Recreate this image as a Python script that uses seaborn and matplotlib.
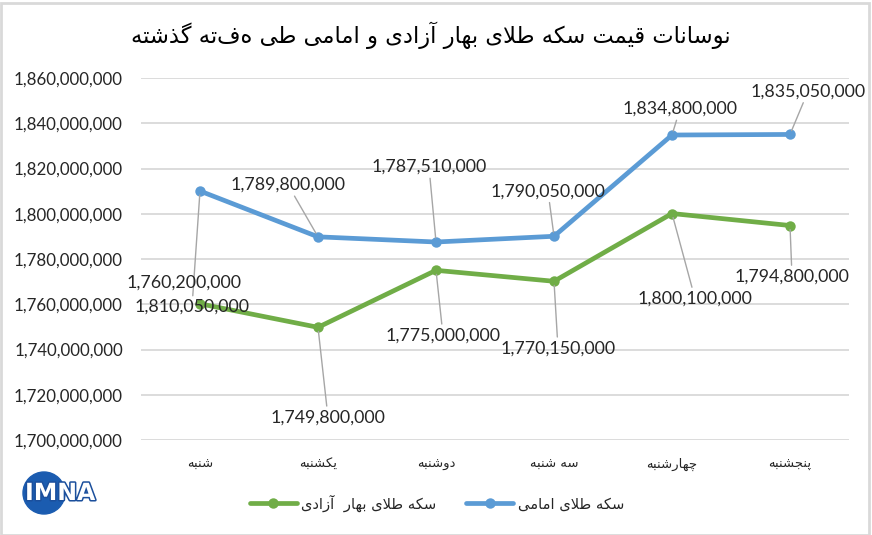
import matplotlib
matplotlib.use("Agg")
import matplotlib.pyplot as plt
import matplotlib.patheffects as pe
from matplotlib.lines import Line2D
from matplotlib.patches import Rectangle, Circle
import seaborn as sns
import pandas as pd

# ---------------- data ----------------
days = ["شنبه", "یکشنبه", "دوشنبه", "سه شنبه", "چهارشنبه", "پنجشنبه"]
emami = [1810050000, 1789800000, 1787510000, 1790050000, 1834800000, 1835050000]
bahar = [1760200000, 1749800000, 1775000000, 1770150000, 1800100000, 1794800000]
name_emami = "سکه طلای امامی"
name_bahar = "سکه طلای بهار  آزادی"
title = "نوسانات قیمت سکه طلای بهار آزادی و امامی طی هفته گذشته"
y_ticks = [1700000000, 1720000000, 1740000000, 1760000000, 1780000000,
           1800000000, 1820000000, 1840000000, 1860000000]

# ---------------- simple Persian shaping ----------------
FORMS = {
    'ا': ('\uFE8D', '\uFE8E', None, None),
    'آ': ('\uFE81', '\uFE82', None, None),
    'ب': ('\uFE8F', '\uFE90', '\uFE91', '\uFE92'),
    'پ': ('\uFB56', '\uFB57', '\uFB58', '\uFB59'),
    'ت': ('\uFE95', '\uFE96', '\uFE97', '\uFE98'),
    'ج': ('\uFE9D', '\uFE9E', '\uFE9F', '\uFEA0'),
    'چ': ('\uFB7A', '\uFB7B', '\uFB7C', '\uFB7D'),
    'د': ('\uFEA9', '\uFEAA', None, None),
    'ذ': ('\uFEAB', '\uFEAC', None, None),
    'ر': ('\uFEAD', '\uFEAE', None, None),
    'ز': ('\uFEAF', '\uFEB0', None, None),
    'س': ('\uFEB1', '\uFEB2', '\uFEB3', '\uFEB4'),
    'ش': ('\uFEB5', '\uFEB6', '\uFEB7', '\uFEB8'),
    'ط': ('\uFEC1', '\uFEC2', '\uFEC3', '\uFEC4'),
    'ق': ('\uFED5', '\uFED6', '\uFED7', '\uFED8'),
    'ک': ('\uFB8E', '\uFB8F', '\uFB90', '\uFB91'),
    'گ': ('\uFB92', '\uFB93', '\uFB94', '\uFB95'),
    'ل': ('\uFEDD', '\uFEDE', '\uFEDF', '\uFEE0'),
    'م': ('\uFEE1', '\uFEE2', '\uFEE3', '\uFEE4'),
    'ن': ('\uFEE5', '\uFEE6', '\uFEE7', '\uFEE8'),
    'ه': ('\uFEE9', '\uFEEA', '\uFEEB', '\uFEEC'),
    'و': ('\uFEED', '\uFEEE', None, None),
    'ی': ('\uFBFC', '\uFBFD', '\uFBFE', '\uFBFF'),
}
LAMALEF = {'ا': ('\uFEFB', '\uFEFC'), 'آ': ('\uFEF5', '\uFEF6')}


def dual(c):
    return c in FORMS and FORMS[c][2] is not None


def fa(s):
    out = []
    n = len(s)
    i = 0
    while i < n:
        c = s[i]
        if c not in FORMS:
            out.append(c)
            i += 1
            continue
        prev_j = i > 0 and dual(s[i - 1])
        if c == 'ل' and i + 1 < n and s[i + 1] in LAMALEF:
            out.append(LAMALEF[s[i + 1]][1 if prev_j else 0])
            i += 2
            continue
        next_j = i + 1 < n and s[i + 1] in FORMS and dual(c)
        iso, fin, ini, med = FORMS[c]
        if prev_j and next_j:
            out.append(med)
        elif prev_j:
            out.append(fin)
        elif next_j:
            out.append(ini)
        else:
            out.append(iso)
        i += 1
    return ''.join(reversed(out))


# ---------------- styling ----------------
sns.set_theme(style="white")
plt.rcParams['font.family'] = ['Lato', 'DejaVu Sans']
FA_FONT = ['DejaVu Sans']
BLUE = '#5B9BD5'
GREEN = '#70AD47'
GRID = '#d9d9d9'
TXT = '#262626'

W, H = 872, 535
fig = plt.figure(figsize=(W / 100, H / 100), dpi=100)
fig.patch.set_facecolor('white')
ax = fig.add_axes([141 / W, (H - 440) / H, 708 / W, 362 / H])

df = pd.DataFrame({
    'pos': list(range(len(days))) * 2,
    'value': bahar + emami,
    'series': [name_bahar] * len(days) + [name_emami] * len(days),
})
sns.lineplot(data=df, x='pos', y='value', hue='series',
             hue_order=[name_bahar, name_emami],
             palette={name_bahar: GREEN, name_emami: BLUE},
             marker='o', markersize=7.5, markeredgewidth=0,
             linewidth=3.4, legend=False, ax=ax, zorder=3)

ax.set_xlim(-0.5, len(days) - 0.5)
ax.set_ylim(y_ticks[0], y_ticks[-1])
ax.set_yticks(y_ticks)
ax.set_yticklabels([f"{v:,}" for v in y_ticks], fontsize=12.2, color=TXT)
ax.set_xticks(range(len(days)))
ax.set_xticklabels([fa(d) for d in days], family=FA_FONT, fontsize=9.5, color=TXT)
ax.tick_params(axis='y', length=0, pad=13)
ax.tick_params(axis='x', length=0, pad=13)
ax.set_xlabel('')
ax.set_ylabel('')
ax.yaxis.grid(True, color=GRID, linewidth=1.3)
ax.xaxis.grid(False)
for sp in ax.spines.values():
    sp.set_visible(False)
ax.set_facecolor('none')

# data labels (offsets in pixels from each point)
off_emami = [(-8, -116), (-30, 52), (-7, 75), (-6, 45), (8, 26), (18, 43)]
off_bahar = [(-16, 21), (10, -90), (7, -65), (4, -67), (23, -85), (2, -51)]
leader = dict(arrowstyle='-', color='#a6a6a6', lw=1.0, shrinkA=0, shrinkB=3)
for vals, offs in ((emami, off_emami), (bahar, off_bahar)):
    for i, (v, o) in enumerate(zip(vals, offs)):
        short = abs(o[1]) < 25 and abs(o[0]) < 20
        ax.annotate(f"{v:,}", xy=(i, v), xytext=o, textcoords='offset pixels',
                    ha='center', va='center', fontsize=12.8, color=TXT,
                    arrowprops=None if short else leader, zorder=5)

# title
fig.text(431 / W, 1 - 35 / H, fa(title), ha='center', va='center',
         fontsize=16.3, color='black', family=FA_FONT)

# legend
handles = [Line2D([], [], color=GREEN, lw=3.4, marker='o', markersize=7.5, markeredgewidth=0),
           Line2D([], [], color=BLUE, lw=3.4, marker='o', markersize=7.5, markeredgewidth=0)]
leg = fig.legend(handles, [fa(name_bahar), fa(name_emami)], loc='center',
                 bbox_to_anchor=(437 / W, 1 - 503 / H), ncol=2, frameon=False,
                 handlelength=3.2, handletextpad=0.3, columnspacing=2.0,
                 prop={'family': FA_FONT, 'size': 10.6})
for t in leg.get_texts():
    t.set_color(TXT)

# logo
logo_ax = fig.add_axes([0, 0, 1, 1], zorder=-1)
logo_ax.set_xlim(0, W)
logo_ax.set_ylim(H, 0)
logo_ax.axis('off')
logo_ax.add_patch(Circle((44, 493), 21, color='#1b5cb0', zorder=1))
logo_ax.text(25, 493, 'IMNA', ha='left', va='center', fontsize=17, fontweight='bold',
             family='DejaVu Sans', color='white', zorder=2,
             path_effects=[pe.withStroke(linewidth=2.2, foreground='#1b4f9c')])

# figure border
fig.patches.append(Rectangle((0.5 / W, 0.5 / H), (W - 4) / W, (H - 3) / H,
                             transform=fig.transFigure, fill=False,
                             edgecolor='#d9d9d9', linewidth=2))

fig.savefig('out.png', dpi=100)
